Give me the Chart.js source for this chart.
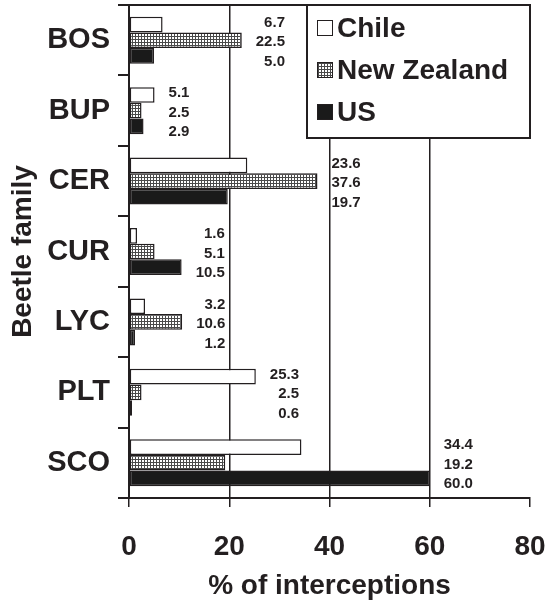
<!DOCTYPE html>
<html>
<head>
<meta charset="utf-8">
<script src="https://cdn.jsdelivr.net/npm/chart.js@4.4.1/dist/chart.umd.min.js"></script>
<style>
	html, body { margin: 0; padding: 0; background: #fff; }
	canvas { display: block; }
</style>
</head>
<body>
<canvas id="chart1" width="547" height="606"></canvas>
<script>
	// Chart data
	const families = ['BOS', 'BUP', 'CER', 'CUR', 'LYC', 'PLT', 'SCO'];
	const countries = ['Chile', 'New Zealand', 'US'];
	const chileValues = [6.7, 5.1, 23.6, 1.6, 3.2, 25.3, 34.4];
	const newZealandValues = [22.5, 2.5, 37.6, 5.1, 10.6, 2.5, 19.2];
	const usValues = [5.0, 2.9, 19.7, 10.5, 1.2, 0.6, 60.0];
	const xTickValues = [0, 20, 40, 60, 80];

(() => {
	'use strict'

	const ink = '#231f20';
	const fontFamily = "'Liberation Sans', Arial, Helvetica, sans-serif";

	// Small dotted grey pattern for the New Zealand bars
	function makePattern() {
		const tile = document.createElement('canvas');
		tile.width = 3;
		tile.height = 3;
		const g = tile.getContext('2d');
		g.fillStyle = '#ffffff';
		g.fillRect(0, 0, 3, 3);
		g.fillStyle = '#4a4a4a';
		g.fillRect(0, 0, 3, 1);
		g.fillRect(0, 0, 1, 3);
		return g.createPattern(tile, 'repeat');
	}
	const nzPattern = makePattern();

	/******************** Plugins Start ********************/
	// Top frame line, in-plot legend box and value labels
	const decorations = {
		id: 'decorations',
		afterDatasetsDraw(chart) {
			const ctx = chart.ctx;
			const area = chart.chartArea;
			const xScale = chart.scales.x;

			ctx.save();
			// top line of the frame
			ctx.strokeStyle = ink;
			ctx.lineWidth = 2;
			ctx.beginPath();
			ctx.moveTo(area.left, area.top);
			ctx.lineTo(area.right, area.top);
			ctx.stroke();

			// value labels next to each group
			ctx.font = 'bold 15px ' + fontFamily;
			ctx.fillStyle = ink;
			ctx.textAlign = 'right';
			ctx.textBaseline = 'middle';
			const middleMeta = chart.getDatasetMeta(1);
			families.forEach((fam, j) => {
				const vals = chart.data.datasets.map((ds) => ds.data[j]);
				const texts = vals.map((v) => v.toFixed(1));
				const widest = Math.max(...texts.map((t) => ctx.measureText(t).width));
				const xRight = xScale.getPixelForValue(Math.max(...vals)) + 14 + widest;
				const yMid = middleMeta.data[j].y + 2;
				texts.forEach((t, i) => {
					ctx.fillText(t, xRight, yMid + (i - 1) * 19.5);
				});
			});

			// legend box
			const boxLeft = 307;
			const boxBottom = 138;
			ctx.fillStyle = '#ffffff';
			ctx.fillRect(boxLeft, area.top, area.right - boxLeft, boxBottom - area.top);
			ctx.strokeStyle = ink;
			ctx.lineWidth = 2;
			ctx.strokeRect(boxLeft, area.top, area.right - boxLeft, boxBottom - area.top);

			ctx.font = 'bold 28px ' + fontFamily;
			ctx.textAlign = 'left';
			chart.data.datasets.forEach((ds, i) => {
				const cy = 28 + i * 42;
				ctx.fillStyle = ds.backgroundColor;
				ctx.fillRect(317, cy - 8, 16, 16);
				ctx.lineWidth = 1;
				ctx.strokeStyle = ink;
				ctx.strokeRect(317.5, cy - 7.5, 15, 15);
				ctx.fillStyle = ink;
				ctx.fillText(ds.label, 337, cy + 1);
			});
			ctx.restore();
		}
	};
	/******************** Plugins End ********************/

	/******************** Chart 1 Start ********************/
	const chart1 = document.getElementById('chart1');

	const dataChart1 = {
		labels: families,
		datasets: [{
			label: countries[0],
			data: chileValues,
			backgroundColor: '#ffffff',
		}, {
			label: countries[1],
			data: newZealandValues,
			backgroundColor: nzPattern,
		}, {
			label: countries[2],
			data: usValues,
			backgroundColor: '#1a1a1a',
		}]
	};
	dataChart1.datasets.forEach((ds) => {
		ds.borderColor = ink;
		ds.borderWidth = 1.5;
		ds.borderSkipped = false;
		ds.categoryPercentage = 0.667;
		ds.barPercentage = 1.0;
	});

	const configChart1 = {
		type: 'bar',
		data: dataChart1,
		plugins: [decorations],
		options: {
			indexAxis: 'y',
			responsive: false,
			animation: false,
			devicePixelRatio: 1,
			layout: {
				padding: { top: 5, right: 17, left: 0, bottom: 0 }
			},
			scales: {
				x: {
					min: 0,
					max: 80,
					afterBuildTicks: (scale) => {
						scale.ticks = xTickValues.map((v) => ({ value: v }));
					},
					afterFit: (scale) => {
						scale.height = 108;
						scale.paddingLeft = 0;
						scale.paddingRight = 0;
					},
					border: { display: true, color: ink, width: 2 },
					grid: {
						color: (c) => (c.tick && (c.tick.value === 0 || c.tick.value === 80)) ? 'rgba(0,0,0,0)' : ink,
						tickColor: ink,
						lineWidth: 1.5,
						tickLength: 9,
					},
					ticks: {
						color: ink,
						padding: 23,
						font: { family: fontFamily, size: 28, weight: 'bold' },
					},
					title: {
						display: true,
						text: '% of interceptions',
						color: ink,
						padding: { top: 0, bottom: 3 },
						font: { family: fontFamily, size: 28, weight: 'bold' },
					}
				},
				y: {
					afterFit: (scale) => {
						scale.width = 129;
						scale.paddingTop = 0;
						scale.paddingBottom = 0;
					},
					border: { display: true, color: ink, width: 2 },
					grid: {
						offset: true,
						drawOnChartArea: false,
						tickColor: ink,
						lineWidth: 2,
						tickLength: 11,
					},
					ticks: {
						color: ink,
						padding: 8,
						font: { family: fontFamily, size: 29, weight: 'bold' },
					},
					title: {
						display: true,
						text: 'Beetle family',
						color: ink,
						padding: { top: 6, bottom: 0 },
						font: { family: fontFamily, size: 28, weight: 'bold' },
					}
				}
			},
			plugins: {
				legend: { display: false },
				title: { display: false },
				tooltip: { enabled: false }
			}
		}
	};

	const myChart1 = new Chart(chart1, configChart1);
	/********************* Chart 1 End *********************/
})()
</script>
</body>
</html>
